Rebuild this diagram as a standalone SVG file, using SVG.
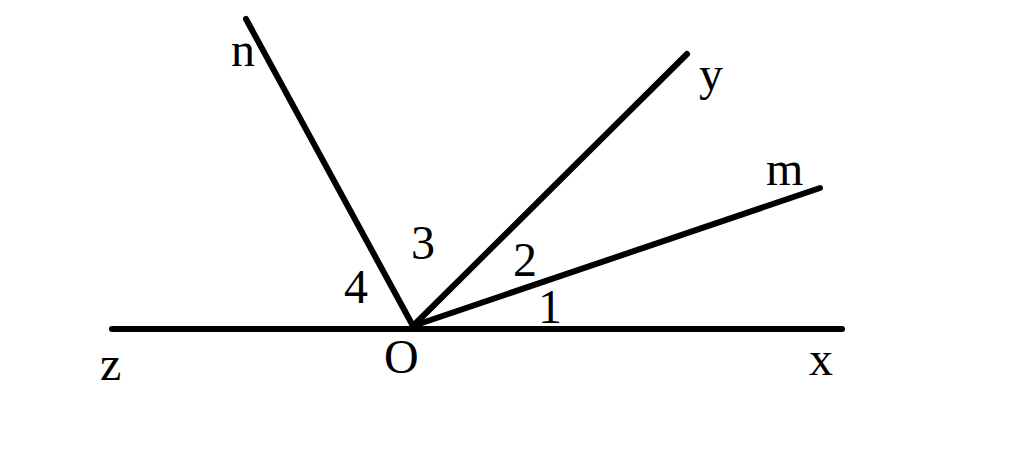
<svg xmlns="http://www.w3.org/2000/svg" width="1024" height="465" viewBox="0 0 1024 465">
<style>
.l{stroke:#000;stroke-width:6;stroke-linecap:round;fill:none}
text{font-family:"Liberation Serif","Times New Roman",serif;font-size:48px;fill:#000}
</style>
<rect width="1024" height="465" fill="#fff"/>
<g id="connectors">
<line class="l" x1="112" y1="329" x2="842" y2="329"/>
<line class="l" x1="413" y1="326" x2="246" y2="19"/>
<line class="l" x1="413" y1="326" x2="687" y2="54"/>
<line class="l" x1="413" y1="326" x2="820" y2="188"/>
</g>
<g id="labels">
<text x="231" y="66">n</text>
<text x="699" y="90">y</text>
<text x="766" y="185">m</text>
<text x="411" y="259">3</text>
<text x="513" y="276">2</text>
<text x="344" y="303">4</text>
<text x="538" y="323">1</text>
<text x="384" y="373">O</text>
<text x="100" y="380">z</text>
<text x="809" y="375">x</text>
</g>
</svg>
